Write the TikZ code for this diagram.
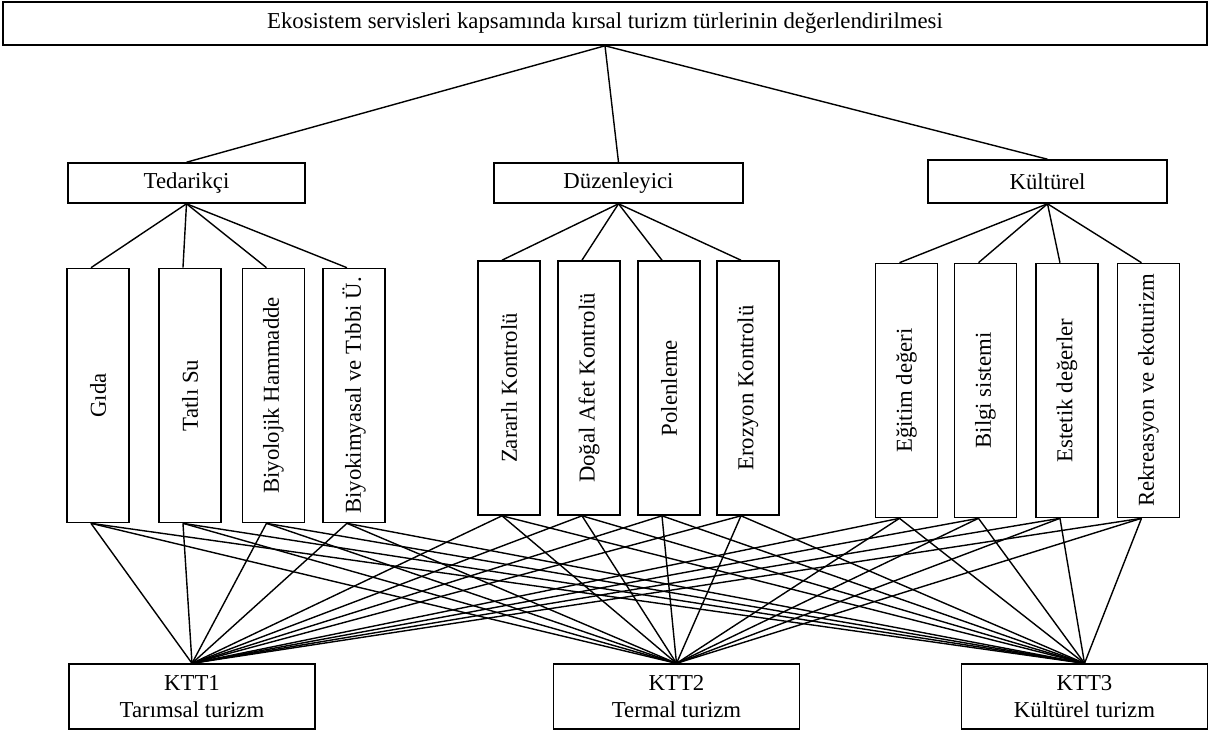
\documentclass[tikz,border=0pt]{standalone}
\usepackage{fontspec}
\setmainfont{Liberation Serif}
\usepackage{graphicx}
\usetikzlibrary{positioning}

\begin{document}
\begin{tikzpicture}[x=0.025cm,y=-0.025cm,
  every node/.style={font=\fontsize{16.2}{19}\selectfont},
  box/.style={draw,line width=1.1pt,inner sep=0pt},
  rootbox/.style={box,minimum width=30.1cm,minimum height=1.075cm},
  catbox/.style={box,minimum height=1cm},
  leafbox/.style={box,minimum width=1.55cm,minimum height=6.35cm},
  kttbox/.style={box,minimum width=6.15cm,minimum height=1.62cm,align=center},
  link/.style={line width=1pt}]

\useasboundingbox (0,0) rectangle (1208,733);

% ===================== ROOT =====================
\node[rootbox] (root) at (605,23.5) {Ekosistem servisleri kapsamında kırsal turizm türlerinin değerlendirilmesi};

% ===================== SERVICE GROUPS =====================
\node[catbox,minimum width=5.925cm] (ted) at (186.5,183) {Tedarikçi};
\node[catbox,minimum width=6.225cm] (duz) at (618.5,183) {Düzenleyici};
\node[catbox,minimum width=5.975cm,minimum height=1.075cm] (kul) at (1047.5,181.5) {Kültürel};

\foreach \c in {ted,duz,kul}
  \draw[link] (root.south) -- (\c.north);

% ===================== SERVICES =====================
\foreach \n/\x/\t in {g1/98/Gıda, g2/190/Tatlı Su, g3/273.5/Biyolojik Hammadde, g4/354/Biyokimyasal ve Tıbbi Ü.}
  \node[leafbox] (\n) at (\x,395.5) {\rotatebox{90}{\t}};
\foreach \n/\x/\t in {d1/509/Zararlı Kontrolü, d2/589/Doğal Afet Kontrolü, d3/669/Polenleme, d4/748/Erozyon Kontrolü}
  \node[leafbox] (\n) at (\x,388) {\rotatebox{90}{\t}};
\foreach \n/\x/\t in {k1/906.5/Eğitim değeri, k2/985.5/Bilgi sistemi, k3/1067/Estetik değerler, k4/1148.5/Rekreasyon ve ekoturizm}
  \node[leafbox] (\n) at (\x,390.5) {\rotatebox{90}{\t}};

\foreach \n in {g1,g2,g3,g4}
  \draw[link] (ted.south) -- ([xshift=-5pt]\n.north);
\foreach \n in {d1,d2,d3,d4}
  \draw[link] (duz.south) -- ([xshift=-5pt]\n.north);
\foreach \n in {k1,k2,k3,k4}
  \draw[link] (kul.south) -- ([xshift=-5pt]\n.north);

% ===================== RURAL TOURISM TYPES =====================
\node[kttbox] (t1) at (192,696.5) {KTT1\\Tarımsal turizm};
\node[kttbox] (t2) at (676.5,696.5) {KTT2\\Termal turizm};
\node[kttbox] (t3) at (1084.5,696.5) {KTT3\\Kültürel turizm};

\foreach \n in {g1,g2,g3,g4,d1,d2,d3,d4,k1,k2,k3,k4}
  \foreach \t in {t1,t2,t3}
    \draw[link] ([xshift=-5pt]\n.south) -- (\t.north);

\end{tikzpicture}
\end{document}
